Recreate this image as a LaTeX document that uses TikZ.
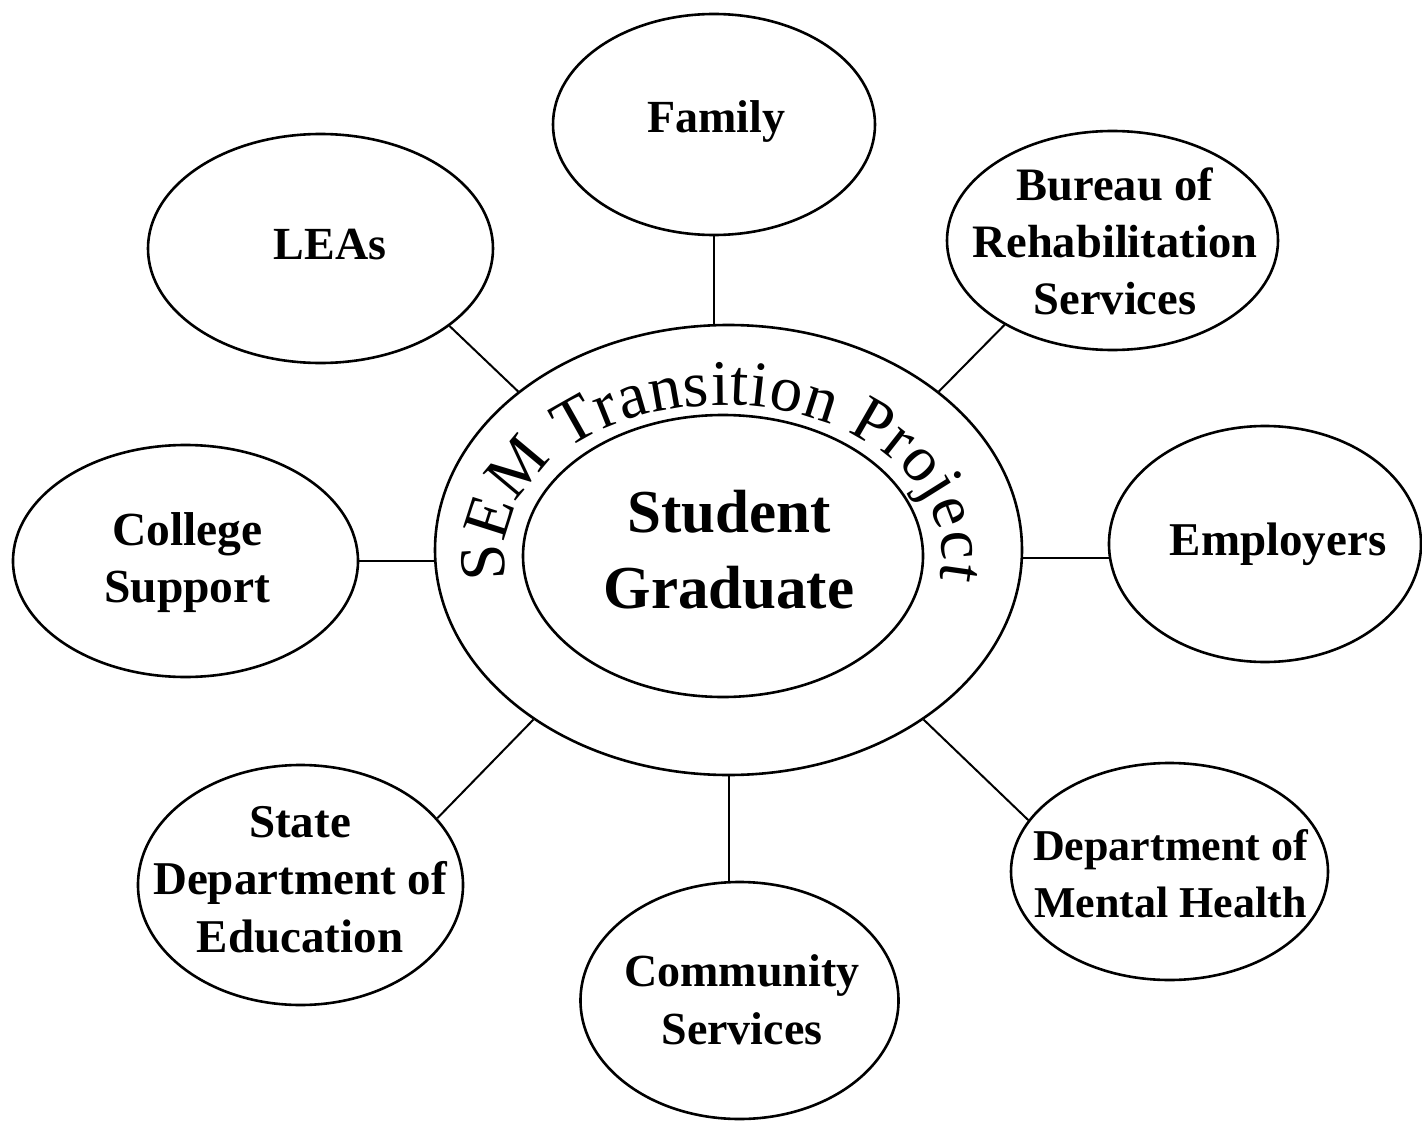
\documentclass[tikz,border=0pt]{standalone}
\usepackage{fontspec}
\setmainfont{Liberation Serif}
\usetikzlibrary{shapes.geometric,decorations.text}
\begin{document}
\begin{tikzpicture}[x=1pt,y=-1pt,
  bubble/.style={draw, ellipse, line width=2.6pt, inner sep=0pt},
  link/.style={line width=2pt},
  lbl/.style={align=center, inner sep=0pt},
]
\fill[white] (0,0) rectangle (1422,1121);
\useasboundingbox (0,0) rectangle (1422,1121);

% central rings
\node[bubble, minimum width=587pt, minimum height=450pt] (ring) at (728.5,550) {};
\node[bubble, minimum width=400pt, minimum height=282pt] (core) at (723,556) {};
\node[lbl, font=\bfseries\fontsize{61}{76}\selectfont] (student) at (729,550) {Student\\Graduate};

% title running round the ring
\path[decorate, decoration={text along path, text align=fit to path,
  text={|\fontsize{65}{65}\selectfont|SEM Transition Project}}]
  (506.7,579.6) arc[start angle=171, end angle=369, x radius=219, y radius=151];

% partner ellipses
\node[bubble, minimum width=322pt, minimum height=221pt] (family) at (714,124.5) {};
\node[bubble, minimum width=345pt, minimum height=229pt] (leas) at (320.5,248.5) {};
\node[bubble, minimum width=331pt, minimum height=219pt] (bureau) at (1112.5,240.5) {};
\node[bubble, minimum width=345pt, minimum height=232pt] (college) at (185.5,561) {};
\node[bubble, minimum width=312pt, minimum height=236pt] (employers) at (1265,544) {};
\node[bubble, minimum width=325pt, minimum height=240pt] (state) at (300.5,885) {};
\node[bubble, minimum width=318pt, minimum height=237pt] (community) at (739.5,1000.5) {};
\node[bubble, minimum width=317pt, minimum height=217pt] (mental) at (1169.5,871.5) {};

% partner names
\node[lbl, anchor=base, font=\bfseries\fontsize{46}{57}\selectfont] (familyname) at (716,133) {Family};
\node[lbl, anchor=base, font=\bfseries\fontsize{46}{57}\selectfont] (leasname) at (330,259) {LEAs};
\node[lbl, font=\bfseries\fontsize{46.5}{57}\selectfont] (bureauname) at (1115,241.3) {Bureau of\\Rehabilitation\\Services};
\node[lbl, font=\bfseries\fontsize{47.5}{57}\selectfont] (collegename) at (187.5,562.7) {College\\Support};
\node[lbl, anchor=base, font=\bfseries\fontsize{47}{57}\selectfont] (employersname) at (1278,555) {Employers};
\node[lbl, font=\bfseries\fontsize{47}{57.5}\selectfont] (statename) at (300,879.3) {State\\Department of\\Education};
\node[lbl, font=\bfseries\fontsize{46}{58}\selectfont] (communityname) at (742,1000.2) {Community\\Services};
\node[lbl, font=\bfseries\fontsize{44}{57}\selectfont] (mentalname) at (1170.5,873.3) {Department of\\Mental Health};

% spokes
\draw[link] (family.south) -- (family.south |- ring.north);
\draw[link] (leas.329) -- (ring.143);
\draw[link] (bureau.218) -- (ring.37);
\draw[link] (college.east) -- (college.east -| ring.west);
\draw[link] (employers.185) -- (employers.185 -| ring.east);
\draw[link] (state.26) -- (ring.221);
\draw[link] (community.95) -- (community.95 |- ring.south);
\draw[link] (mental.160) -- (ring.319);
\end{tikzpicture}
\end{document}
